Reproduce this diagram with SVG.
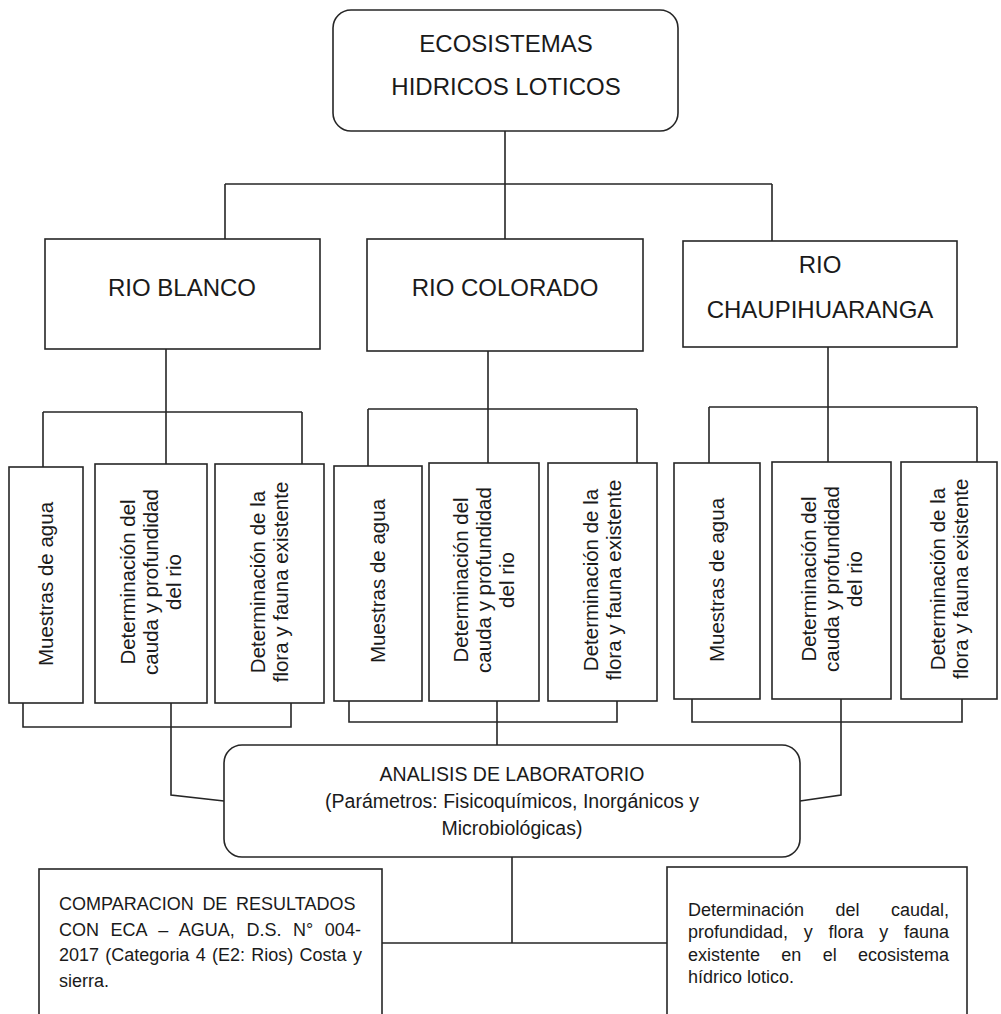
<svg xmlns="http://www.w3.org/2000/svg" width="1001" height="1014" viewBox="0 0 1001 1014">
<style>
.box{fill:#fff;stroke:#262626;stroke-width:1.6}
.ln{fill:none;stroke:#262626;stroke-width:1.6}
text{font-family:"Liberation Sans",Arial,sans-serif;fill:#1a1a1a}
.t24{font-size:24px;text-anchor:middle}
.t20{font-size:20.5px;text-anchor:middle}
.t19{font-size:19.5px;text-anchor:middle}
.t18{font-size:18px}
</style>
<rect width="1001" height="1014" fill="#fff"/>
<g id="connectors">
<path class="ln" d="M505,131V239M225,184H772M225,184V239M772,184V241"/>
<path class="ln" d="M166,349V412M43,412H302M43,412V467M166,412V464M302,412V464"/>
<path class="ln" d="M488,351V463M368,409H637M368,409V466M637,409V463"/>
<path class="ln" d="M828,347V462M709,407H977M709,407V463M977,407V462"/>
<path class="ln" d="M23,703V727H291V703M171,701V795L224,801"/>
<path class="ln" d="M349,701V722H617V701M497,701V745"/>
<path class="ln" d="M692,699V722H962V699M841,699V795L800,801"/>
<path class="ln" d="M512,857V943M382,943H667"/>
</g>
<g id="root">
<rect class="box" x="333" y="10" width="345" height="121" rx="18"/>
<text class="t24" x="506" y="52">ECOSISTEMAS</text>
<text class="t24" x="506" y="95">HIDRICOS LOTICOS</text>
</g>
<g id="rio-blanco">
<rect class="box" x="45" y="239" width="275" height="110"/>
<text class="t24" x="182" y="296">RIO BLANCO</text>
</g>
<g id="rio-colorado">
<rect class="box" x="367" y="239" width="276" height="112"/>
<text class="t24" x="505" y="296">RIO COLORADO</text>
</g>
<g id="rio-chaupihuaranga">
<rect class="box" x="683" y="241" width="274" height="106"/>
<text class="t24" x="820" y="273">RIO</text>
<text class="t24" x="820" y="318">CHAUPIHUARANGA</text>
</g>
<g id="a1">
<rect class="box" x="9" y="467" width="74" height="236"/>
<text class="t20" transform="translate(46,584) rotate(-90)" x="0" y="7">Muestras de agua</text>
</g>
<g id="a2">
<rect class="box" x="95" y="464" width="112" height="239"/>
<text class="t20" transform="translate(151,582) rotate(-90)"><tspan x="0" y="-16">Determinación del</tspan><tspan x="0" y="7">cauda y profundidad</tspan><tspan x="0" y="30">del rio</tspan></text>
</g>
<g id="a3">
<rect class="box" x="215" y="464" width="109" height="239"/>
<text class="t20" transform="translate(269.5,582) rotate(-90)"><tspan x="0" y="-4.5">Determinación de la</tspan><tspan x="0" y="18.5">flora y fauna existente</tspan></text>
</g>
<g id="b1">
<rect class="box" x="334" y="466" width="88" height="235"/>
<text class="t20" transform="translate(378,581) rotate(-90)" x="0" y="7">Muestras de agua</text>
</g>
<g id="b2">
<rect class="box" x="429" y="463" width="110" height="238"/>
<text class="t20" transform="translate(484,580) rotate(-90)"><tspan x="0" y="-16">Determinación del</tspan><tspan x="0" y="7">cauda y profundidad</tspan><tspan x="0" y="30">del rio</tspan></text>
</g>
<g id="b3">
<rect class="box" x="548" y="463" width="109" height="238"/>
<text class="t20" transform="translate(602.5,580) rotate(-90)"><tspan x="0" y="-4.5">Determinación de la</tspan><tspan x="0" y="18.5">flora y fauna existente</tspan></text>
</g>
<g id="c1">
<rect class="box" x="674" y="463" width="86" height="236"/>
<text class="t20" transform="translate(717,580) rotate(-90)" x="0" y="7">Muestras de agua</text>
</g>
<g id="c2">
<rect class="box" x="772" y="462" width="119" height="237"/>
<text class="t20" transform="translate(831.5,579) rotate(-90)"><tspan x="0" y="-16">Determinación del</tspan><tspan x="0" y="7">cauda y profundidad</tspan><tspan x="0" y="30">del rio</tspan></text>
</g>
<g id="c3">
<rect class="box" x="901" y="462" width="96" height="237"/>
<text class="t20" transform="translate(949.5,579) rotate(-90)"><tspan x="0" y="-4.5">Determinación de la</tspan><tspan x="0" y="18.5">flora y fauna existente</tspan></text>
</g>
<g id="analisis">
<rect class="box" x="224" y="745" width="576" height="112" rx="18"/>
<text class="t19" x="512" y="781">ANALISIS DE LABORATORIO</text>
<text class="t19" x="512" y="808">(Parámetros: Fisicoquímicos, Inorgánicos y</text>
<text class="t19" x="512" y="835">Microbiológicas)</text>
</g>
<g id="comparacion">
<rect class="box" x="39" y="869" width="343" height="170"/>
<text class="t18" x="59" y="910" style="word-spacing:3.7px">COMPARACION DE RESULTADOS</text>
<text class="t18" x="59" y="936" style="word-spacing:6.6px">CON ECA – AGUA, D.S. N° 004-</text>
<text class="t18" x="59" y="961" style="word-spacing:1.3px">2017 (Categoria 4 (E2: Rios) Costa y</text>
<text class="t18" x="59" y="987">sierra.</text>
</g>
<g id="determinacion">
<rect class="box" x="667" y="867" width="300" height="170"/>
<text class="t18" x="688" y="916" style="word-spacing:26.5px">Determinación del caudal,</text>
<text class="t18" x="688" y="938" style="word-spacing:10.7px">profundidad, y flora y fauna</text>
<text class="t18" x="688" y="961" style="word-spacing:16.3px">existente en el ecosistema</text>
<text class="t18" x="688" y="983">hídrico lotico.</text>
</g>
</svg>
